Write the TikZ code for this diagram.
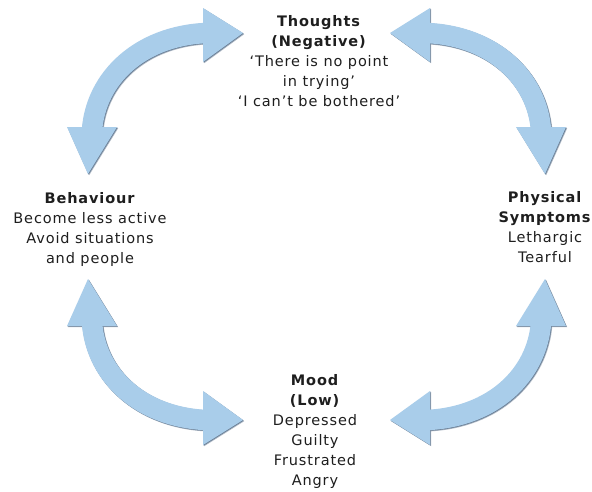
\documentclass[tikz,border=0pt]{standalone}
\usepackage{fontspec}
\setmainfont[LetterSpace=6]{DejaVu Sans}
\definecolor{arrowblue}{RGB}{169,205,234}
\definecolor{arrowshade}{RGB}{105,125,148}
\definecolor{txt}{RGB}{30,30,30}
\newcommand\cyclearrow[1]{%
  \draw[line width=20.5,draw=#1] (92,130) .. controls (96,78) and (140,36) .. (206,33);
  \fill[fill=#1] (243,33) -- (203,8) -- (203,62) -- cycle;
  \fill[fill=#1] (88,174) -- (67,127) -- (117,127) -- cycle;
}
\newcommand\fourarrows[1]{%
  \begin{scope}\cyclearrow{#1}\end{scope}
  \begin{scope}[shift={(633,0)},xscale=-1]\cyclearrow{#1}\end{scope}
  \begin{scope}[shift={(0,453)},yscale=-1]\cyclearrow{#1}\end{scope}
  \begin{scope}[shift={(633,453)},xscale=-1,yscale=-1]\cyclearrow{#1}\end{scope}
}
\tikzset{
  label block/.style={align=center, text=txt, inner sep=0pt,
    font=\fontsize{14.5}{20}\selectfont},
}
\begin{document}
\begin{tikzpicture}[x=1pt,y=-1pt]
\useasboundingbox[fill=white] (0,0) rectangle (592,491);
% shadows
\begin{scope}[shift={(1.2,1.2)}]
  \fourarrows{arrowshade!55}
\end{scope}
\begin{scope}[shift={(0.6,0.6)}]
  \fourarrows{arrowshade}
\end{scope}
% arrows
\fourarrows{arrowblue}
% texts
\node[label block] (thoughts) at (319,61) {\textbf{Thoughts}\\\textbf{(Negative)}\\‘There is no point\\in trying’\\‘I can’t be bothered’};
\node[label block] (behaviour) at (90,229) {\textbf{Behaviour}\\Become less active\\Avoid situations\\and people};
\node[label block] (physical) at (545,227) {\textbf{Physical}\\\textbf{Symptoms}\\Lethargic\\Tearful};
\node[label block] (mood) at (315,431) {\textbf{Mood}\\\textbf{(Low)}\\Depressed\\Guilty\\Frustrated\\Angry};
\end{tikzpicture}
\end{document}
